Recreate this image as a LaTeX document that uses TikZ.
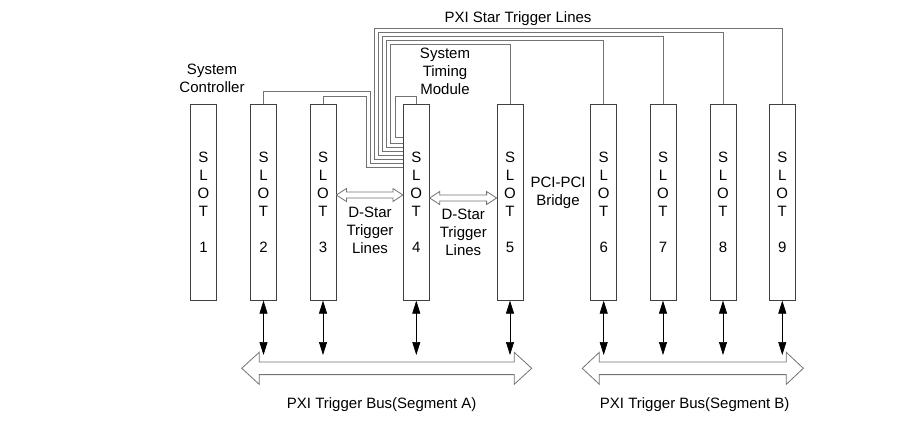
\documentclass[tikz,border=0pt]{standalone}
\usepackage{fontspec}
\setmainfont{Liberation Sans}
\usetikzlibrary{arrows.meta,calc}
\newcommand\hollowdbl[5]{%
  \draw[hollow] (#1) -- ($(#1)+(#3,-#4)$) -- ($(#1)+(#3,-#5)$) -- ($(#2)+(-#3,-#5)$) -- ($(#2)+(-#3,-#4)$) -- (#2)
    -- ($(#2)+(-#3,#4)$) -- ($(#2)+(-#3,#5)$) -- ($(#1)+(#3,#5)$) -- ($(#1)+(#3,#4)$) -- cycle;}
\begin{document}
\begin{tikzpicture}[x=1pt,y=-1pt,
  every node/.style={font=\fontsize{15}{18}\selectfont, inner sep=0pt},
  slotbox/.style={draw=black!75, line width=0.8pt, fill=white, minimum width=26pt, minimum height=196pt, align=center},
  star/.style={draw=black!55, line width=0.8pt},
  lbl/.style={align=center},
  vbus/.style={draw=black, line width=0.7pt, {Triangle[length=13pt,width=8pt]}-{Triangle[length=13pt,width=8pt]}},
  hollow/.style={draw=black!55, line width=0.8pt, fill=white, line join=miter}]
\useasboundingbox (0,0) rectangle (897,429);

% slots
\foreach \n/\x in {1/203.5,2/263.5,3/323,4/416.3,5/510,6/603.7,7/663,8/723,9/782.3}
  \node[slotbox] (s\n) at (\x,202.2) {S\\L\\O\\T\\[18pt]\n};

% PXI star trigger lines
\draw[star] (s9.north) |- (374,28)   |- (s4.west |- 0,159.3);
\draw[star] (s8.north) |- (378,32.3) |- (s4.west |- 0,155.3);
\draw[star] (s7.north) |- (382,36.5) |- (s4.west |- 0,151.3);
\draw[star] (s6.north) |- (386,40.6) |- (s4.west |- 0,147.3);
\draw[star] (s5.north) |- (390,44.7) |- (s4.west |- 0,143.3);
\draw[star] (s4.north) |- (395,96)   |- (s4.west |- 0,137.7);
\draw[star] (s2.north) |- (370,91.7) |- (s4.west |- 0,163.3);
\draw[star] (s3.north) |- (366,96)   |- (s4.west |- 0,167.3);

% D-Star hollow arrows
\coordinate (d1a) at (s3.east |- 0,195);
\coordinate (d1b) at (s4.west |- 0,195);
\coordinate (d2a) at (s4.east |- 0,198);
\coordinate (d2b) at (s5.west |- 0,198);
\hollowdbl{d1a}{d1b}{10}{6.5}{3}
\hollowdbl{d2a}{d2b}{10}{6.5}{3}

% trigger buses
\coordinate (bAl) at (241.7,368.3);
\coordinate (bAr) at (531.7,368.3);
\coordinate (bBl) at (582.3,368.3);
\coordinate (bBr) at (803.3,368.3);
\hollowdbl{bAl}{bAr}{17.5}{16}{6.3}
\hollowdbl{bBl}{bBr}{17}{16}{6.3}

% vertical bus arrows
\foreach \n in {2,3,4,5,6,7,8,9}
  \draw[vbus] (s\n.south) -- (s\n.south |- 0,355);

% labels
\node[lbl] (sc) at (212,78.7) {System\\Controller};
\node[lbl] (stm) at (445,71.5) {System\\Timing\\Module};
\node[lbl] (pxs) at (518,18.8) {PXI Star Trigger Lines};
\node[lbl] (ds1) at (370,230) {D-Star\\Trigger\\Lines};
\node[lbl] (ds2) at (463.3,232) {D-Star\\Trigger\\Lines};
\node[lbl] (pci) at (558,193) {PCI-PCI\\Bridge};
\node[lbl] (bla) at (381.7,404.8) {PXI Trigger Bus(Segment A)};
\node[lbl] (blb) at (694.7,404.8) {PXI Trigger Bus(Segment B)};
\end{tikzpicture}
\end{document}
